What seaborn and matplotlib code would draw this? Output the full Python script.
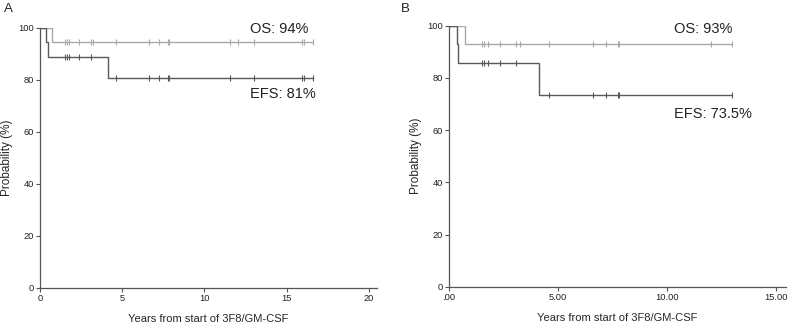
import numpy as np
import pandas as pd
import seaborn as sns
import matplotlib.pyplot as plt

# Panel A - Kaplan-Meier step points (years, %)
a_os_time = [0, 0.71, 16.6]
a_os_surv = [100, 94.4, 94.4]
a_efs_time = [0, 0.35, 0.47, 4.16, 16.6]
a_efs_surv = [100, 94.4, 88.9, 80.8, 80.8]
a_os_cens = [1.52, 1.64, 1.77, 2.37, 3.08, 3.23, 4.6, 6.63, 7.24, 7.77, 7.85,
             11.56, 12.05, 13.02, 15.93, 16.03, 16.6]
a_efs_cens = [1.52, 1.64, 1.77, 2.37, 3.08, 4.6, 6.63, 7.24, 7.77, 7.85,
              11.56, 13.02, 15.93, 16.03, 16.6]

# Panel B
b_os_time = [0, 0.72, 12.99]
b_os_surv = [100, 92.9, 92.9]
b_efs_time = [0, 0.38, 0.43, 4.15, 12.99]
b_efs_surv = [100, 92.9, 85.7, 73.5, 73.5]
b_os_cens = [1.50, 1.61, 1.80, 2.34, 3.08, 3.25, 4.61, 6.63, 7.22, 7.75, 7.81,
             12.03, 12.99]
b_efs_cens = [1.50, 1.61, 1.80, 2.34, 3.08, 4.61, 6.63, 7.22, 7.75, 7.81, 12.99]

a_xticks = [0, 5, 10, 15, 20]
a_xticklabels = ["0", "5", "10", "15", "20"]
b_xticks = [0, 5, 10, 15]
b_xticklabels = [".00", "5.00", "10.00", "15.00"]
yticks = [0, 20, 40, 60, 80, 100]

os_color = "#a9a9a9"
efs_color = "#595959"
axis_color = "#555555"

sns.set_style("ticks")
plt.rcParams["font.family"] = ["Liberation Sans", "DejaVu Sans"]


def step_value(times, surv, t):
    idx = np.searchsorted(times, t, side="right") - 1
    return np.asarray(surv)[idx]


def km_panel(ax, curves, xlim, xticks, xticklabels):
    for times, surv, cens, col in curves:
        sns.lineplot(x=times, y=surv, drawstyle="steps-post", color=col,
                     lw=1.0, ax=ax)
        cy = step_value(times, surv, cens)
        ax.plot(cens, cy, ls="none", marker="|", ms=5, mew=0.8, color=col)
    ax.set_xlim(*xlim)
    ax.set_ylim(0, 100)
    ax.set_xticks(xticks)
    ax.set_xticklabels(xticklabels)
    ax.set_yticks(yticks)
    ax.tick_params(labelsize=6.7, length=3, width=0.8, pad=1.5,
                   colors="#222222")
    ax.tick_params(color=axis_color)
    for s in ["top", "right"]:
        ax.spines[s].set_visible(False)
    for s in ["left", "bottom"]:
        ax.spines[s].set_color(axis_color)
        ax.spines[s].set_linewidth(0.9)
    ax.set_ylabel("Probability (%)", fontsize=8.5)
    ax.yaxis.set_label_coords(-0.08, 0.5)
    ax.set_xlabel("Years from start of 3F8/GM-CSF", fontsize=8)
    ax.xaxis.set_label_coords(0.5, -0.10)


fig = plt.figure(figsize=(7.88, 3.24), dpi=100)
ax_a = fig.add_axes([40 / 788, 0.112, 337 / 788, 0.8025])
ax_b = fig.add_axes([449 / 788, 0.115, 337 / 788, 0.8055])

km_panel(ax_a, [(a_os_time, a_os_surv, a_os_cens, os_color),
                (a_efs_time, a_efs_surv, a_efs_cens, efs_color)],
         (0, 20.5), a_xticks, a_xticklabels)
km_panel(ax_b, [(b_os_time, b_os_surv, b_os_cens, os_color),
                (b_efs_time, b_efs_surv, b_efs_cens, efs_color)],
         (0, 15.47), b_xticks, b_xticklabels)

ax_a.text(12.8, 99.5, "OS: 94%", fontsize=10.5, va="center", color="#222222")
ax_a.text(12.8, 74.4, "EFS: 81%", fontsize=10.5, va="center", color="#222222")
ax_b.text(10.33, 98.7, "OS: 93%", fontsize=10.5, va="center", color="#222222")
ax_b.text(10.33, 66.0, "EFS: 73.5%", fontsize=10.5, va="center", color="#222222")

fig.text(4 / 788, 1 - 8.5 / 324, "A", fontsize=9.5, va="center", color="#222222")
fig.text(401 / 788, 1 - 8.5 / 324, "B", fontsize=9.5, va="center", color="#222222")

fig.savefig("out.png", dpi=100)
